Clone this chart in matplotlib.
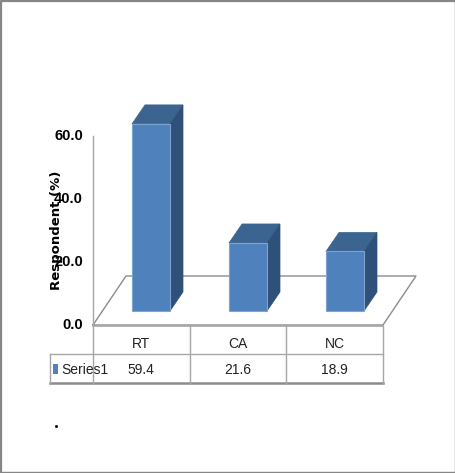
import numpy as np
import matplotlib.pyplot as plt
from matplotlib.patches import Polygon, Rectangle

categories = ['RT', 'CA', 'NC']
values = [59.4, 21.6, 18.9]
value_labels = ['59.4', '21.6', '18.9']
series_name = 'Series1'
y_ticks = [0, 20, 40, 60]
y_label = 'Respondent (%)'

W, H = 456, 473
fig = plt.figure(figsize=(W / 100, H / 100), dpi=100)
ax = fig.add_axes([0, 0, 1, 1])

# one category = 96.67 px, one percent = 3.15 px, origin at px (93, 325)
cat_w = 290 / 3
unit = 3.15
ax.set_xlim(-93 / cat_w, (W - 93) / cat_w)
ax.set_ylim((325 - H) / unit, 325 / unit)
ax.axis('off')

def px(x):
    return (x - 93) / cat_w

def py(y):
    return (325 - y) / unit

GRID = '#a6a6a6'
FRONT = '#4f81bd'
TOP = '#3c6491'
SIDE = '#2f5179'
EDGE = '#7fa3d1'

font = ['Liberation Sans Narrow', 'Liberation Sans', 'DejaVu Sans']

# picture frame
ax.plot([px(0.5), px(0.5), px(W)], [py(472), py(1), py(1)], color='#868686', lw=1.6, zorder=1)
ax.plot([px(0), px(W)], [py(472), py(472)], color='#868686', lw=1.0, zorder=1)
ax.plot([px(455), px(455)], [py(1), py(472)], color='#868686', lw=1.0, zorder=1)

# floor and y axis
dx = 33 / cat_w
dy = 49 / unit
ax.plot([0, dx, 3 + dx, 3, 0], [0, dy, dy, 0, 0], color='#8c8c8c', lw=1.0, zorder=2)
ax.plot([0, 0], [0, 60], color=GRID, lw=1.0, zorder=2)
for t in y_ticks:
    ax.text(px(83), t, '%.1f' % t, ha='right', va='center', fontsize=10.5,
            fontweight='bold', family=font, color='black', stretch='condensed')

ax.text(px(57), py(230), y_label, rotation=90, ha='center', va='center',
        fontsize=9.5, fontweight='bold', family='DejaVu Sans', color='black')

# bars
bar_w = 38 / cat_w
bx = 13 / cat_w
by = 19 / unit
base = py(311)
starts = [px(132), px(229), px(326)]
for s, v in zip(starts, values):
    top = base + v
    ax.add_patch(Rectangle((s, base), bar_w, v, fc=FRONT, ec=EDGE, lw=0.8, zorder=4))
    ax.add_patch(Polygon([(s, top), (s + bx, top + by), (s + bar_w + bx, top + by), (s + bar_w, top)],
                         fc=TOP, ec=TOP, lw=0.5, zorder=3))
    ax.add_patch(Polygon([(s + bar_w, base), (s + bar_w + bx, base + by), (s + bar_w + bx, top + by), (s + bar_w, top)],
                         fc=SIDE, ec=SIDE, lw=0.5, zorder=3))

# data table
rows = [py(325.5), py(354), py(383)]
left = px(50)
ax.plot([0, 3], [rows[0], rows[0]], color=GRID, lw=1.2, zorder=2)
ax.plot([left, 3], [rows[1], rows[1]], color=GRID, lw=1.0, zorder=2)
ax.plot([left, 3], [rows[2], rows[2]], color='#8c8c8c', lw=1.8, zorder=2)
ax.plot([left, left], [rows[1], rows[2]], color=GRID, lw=1.0, zorder=2)
for i in range(4):
    ax.plot([i, i], [rows[0], rows[2]], color=GRID, lw=1.0, zorder=2)
for i, (c, lab) in enumerate(zip(categories, value_labels)):
    ax.text(i + 0.5, py(344), c, ha='center', va='center', fontsize=10, family=font,
            color='#222222', stretch='condensed')
    ax.text(i + 0.5, py(369.5), lab, ha='center', va='center', fontsize=10, family=font,
            color='#222222', stretch='condensed')
ax.add_patch(Rectangle((px(53), py(374)), 5 / cat_w, 10 / unit, fc=FRONT, ec='none', zorder=3))
ax.text(px(61), py(369.5), series_name, ha='left', va='center', fontsize=10, family=font, color='#222222')

# stray dot under the table
ax.plot([px(56.5)], [py(426)], marker='s', ms=1, color='black', zorder=2)

fig.savefig('out.png', dpi=100)
